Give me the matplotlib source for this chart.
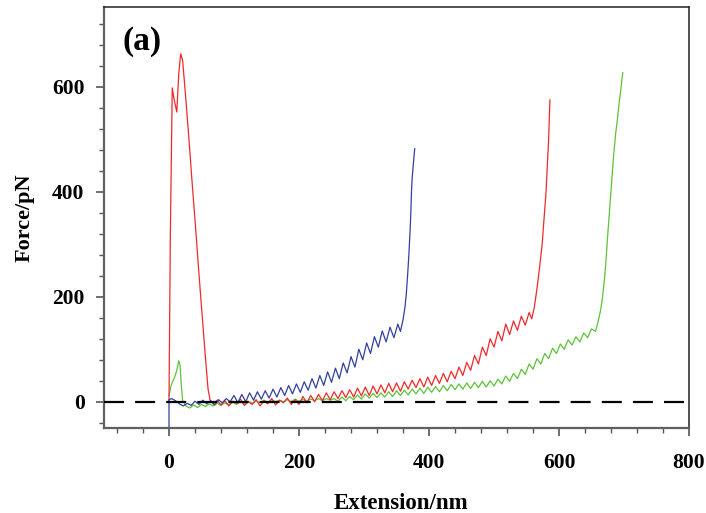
import matplotlib
matplotlib.use("Agg")
import matplotlib.pyplot as plt
from matplotlib.ticker import MultipleLocator

# Force-extension curves (nm, pN)
red_ext = [0, 2, 5, 8, 12, 15, 18, 21, 26, 31, 36, 41, 46, 51, 56, 60, 63,
           68, 74, 80, 86, 92, 98, 104, 110, 116, 122, 128, 134, 140, 146, 152, 158,
           164, 170, 176, 182, 188, 194, 200, 206, 212, 218, 224, 230, 236, 242, 248,
           254, 260, 266, 272, 278, 284, 290, 296, 302, 308, 314, 320, 326, 332, 338,
           344, 350, 356, 362, 368, 374, 380, 386, 392, 398, 404, 410, 416, 422, 428,
           434, 440, 446, 452, 458, 464, 470, 476, 482, 488, 494, 500, 506, 512, 518,
           524, 530, 536, 542, 548, 554, 558,
           562, 566, 570, 574, 577, 580, 582, 584, 585, 586]
red_force = [0, 310, 598, 575, 552, 625, 663, 650, 575, 495, 410, 330, 245, 165, 85, 25, 4,
             -4, 3, -6, 2, -8, 1, -3, 5, -7, 0, -5, 4, -8, 2, -4, 6,
             -6, 3, -2, 7, -5, 4, -5, 10, -2, 12, 0, 14, 2, 17, 4,
             19, 6, 21, 8, 23, 9, 26, 11, 28, 12, 30, 15, 32, 17, 35,
             19, 36, 20, 38, 24, 41, 27, 44, 28, 47, 31, 50, 35, 54, 38,
             58, 44, 66, 50, 75, 60, 88, 72, 104, 88, 120, 104, 134, 116, 148,
             128, 154, 136, 163, 146, 170, 158,
             180, 215, 255, 300, 350, 400, 450, 500, 540, 575]

blue_ext = [0, 0, 4, 10, 16, 22, 28, 34, 40, 46, 52, 58, 64, 70, 76, 82, 88, 94,
            100, 106, 112, 118, 124, 130, 136, 142, 148, 154, 160, 166, 172, 178,
            184, 190, 196, 202, 208, 214, 220, 226, 232, 238, 244, 250, 256, 262,
            268, 274, 280, 286, 292, 298, 304, 310, 316, 322, 328, 334, 340, 346,
            352, 356, 360,
            363, 365, 367, 369, 371, 372, 373, 374, 376, 378]
blue_force = [-50, 4, 6, 2, -4, -8, -3, -7, 1, -5, 3, -4, 2, -6, 4, -2, 6, 0,
              12, -2, 14, 0, 17, 3, 19, 5, 21, 7, 24, 9, 27, 12,
              31, 15, 34, 18, 38, 22, 44, 26, 50, 31, 57, 37, 64, 44,
              74, 55, 86, 66, 100, 80, 112, 92, 124, 104, 135, 114, 142, 122,
              148, 134, 156,
              180, 205, 240, 280, 330, 360, 400, 425, 455, 482]

green_ext = [0, 3, 6, 9, 12, 15, 17, 19, 21,
             26, 32, 38, 44, 50, 56, 62, 68, 74, 80, 86, 92, 98, 104, 110, 116,
             122, 128, 134, 140, 146, 152, 158, 164, 170, 176, 182, 188, 194, 200,
             206, 212, 218, 224, 230, 236, 242, 248, 254, 260, 266, 272, 278, 284,
             290, 296, 302, 308, 314, 320, 326, 332, 338, 344, 350, 356, 362, 368,
             374, 380, 386, 392, 398, 404, 410, 416, 422, 428, 434, 440, 446, 452,
             458, 464, 470, 476, 482, 488, 494, 500, 506, 512, 518, 524, 530, 536,
             542, 548, 554, 560, 566, 572, 578, 584, 590, 596, 602, 608, 614, 620,
             626, 632, 638, 644, 650, 656, 660,
             664, 667, 670, 672, 675, 678, 681, 684, 687, 690, 693, 696, 698]
green_force = [12, 30, 40, 48, 60, 78, 70, 30, 2,
               -8, -12, -6, -11, -5, -9, -4, -8, -3, -7, -2, -6, -1, -5, 0, -4,
               1, -3, 2, -2, 3, -1, 4, 0, 3, 0, 4, 0, 5, 1,
               4, 1, 5, 2, 6, 2, 6, 3, 6, 1, 9, 2, 10, 4,
               13, 5, 15, 7, 16, 8, 17, 9, 19, 10, 21, 12, 22, 13,
               24, 15, 26, 16, 28, 18, 29, 19, 31, 21, 33, 23, 34, 24,
               36, 25, 37, 27, 39, 28, 40, 30, 43, 34, 49, 39, 54, 44,
               62, 52, 72, 62, 82, 72, 92, 82, 102, 92, 110, 100, 118, 108,
               124, 114, 131, 122, 139, 134, 152,
               175, 200, 235, 265, 320, 370, 420, 470, 510, 540, 575, 605, 627]

x_ticks = [0, 200, 400, 600, 800]
y_ticks = [0, 200, 400, 600]

plt.rcParams['font.family'] = ['Liberation Serif', 'DejaVu Serif']
plt.rcParams['font.weight'] = 'bold'

fig = plt.figure(figsize=(7.06, 5.13), dpi=100)
ax = fig.add_axes([0.1473, 0.1657, 0.8287, 0.8206])

ax.plot(green_ext, green_force, color='#5cc23a', lw=0.9)
ax.plot(red_ext, red_force, color='#ee2a2a', lw=0.9)
ax.plot(blue_ext, blue_force, color='#33409e', lw=0.9)
ax.axhline(0, color='black', lw=1.6, dashes=(9, 5), zorder=5)

ax.set_xlim(-100, 800)
ax.set_ylim(-50, 752)
ax.set_xticks(x_ticks)
ax.set_yticks(y_ticks)
ax.xaxis.set_minor_locator(MultipleLocator(40))
ax.yaxis.set_minor_locator(MultipleLocator(40))

ax.tick_params(which='major', direction='out', length=6, width=1.2, color='#555555',
               labelsize=15.5)
ax.tick_params(which='minor', direction='out', length=3.5, width=1.0, color='#555555')
ax.tick_params(axis='x', which='major', pad=12)
ax.tick_params(axis='y', which='major', pad=8)
for lab in ax.get_xticklabels() + ax.get_yticklabels():
    lab.set_fontweight('bold')

for side in ['left', 'bottom']:
    ax.spines[side].set_color('#606060')
    ax.spines[side].set_linewidth(1.6)
for side in ['top', 'right']:
    ax.spines[side].set_color('#222222')
    ax.spines[side].set_linewidth(1.1)

ax.set_xlabel('Extension/nm', fontsize=16.5, fontweight='bold')
ax.set_ylabel('Force/pN', fontsize=16, fontweight='bold')
ax.xaxis.set_label_coords(0.508, -0.154)
ax.yaxis.set_label_coords(-0.118, 0.50)

ax.text(0.031, 0.917, '(a)', transform=ax.transAxes, fontsize=24, fontweight='bold',
        ha='left', va='center')

plt.savefig("out.png", dpi=100)
plt.close(fig)
